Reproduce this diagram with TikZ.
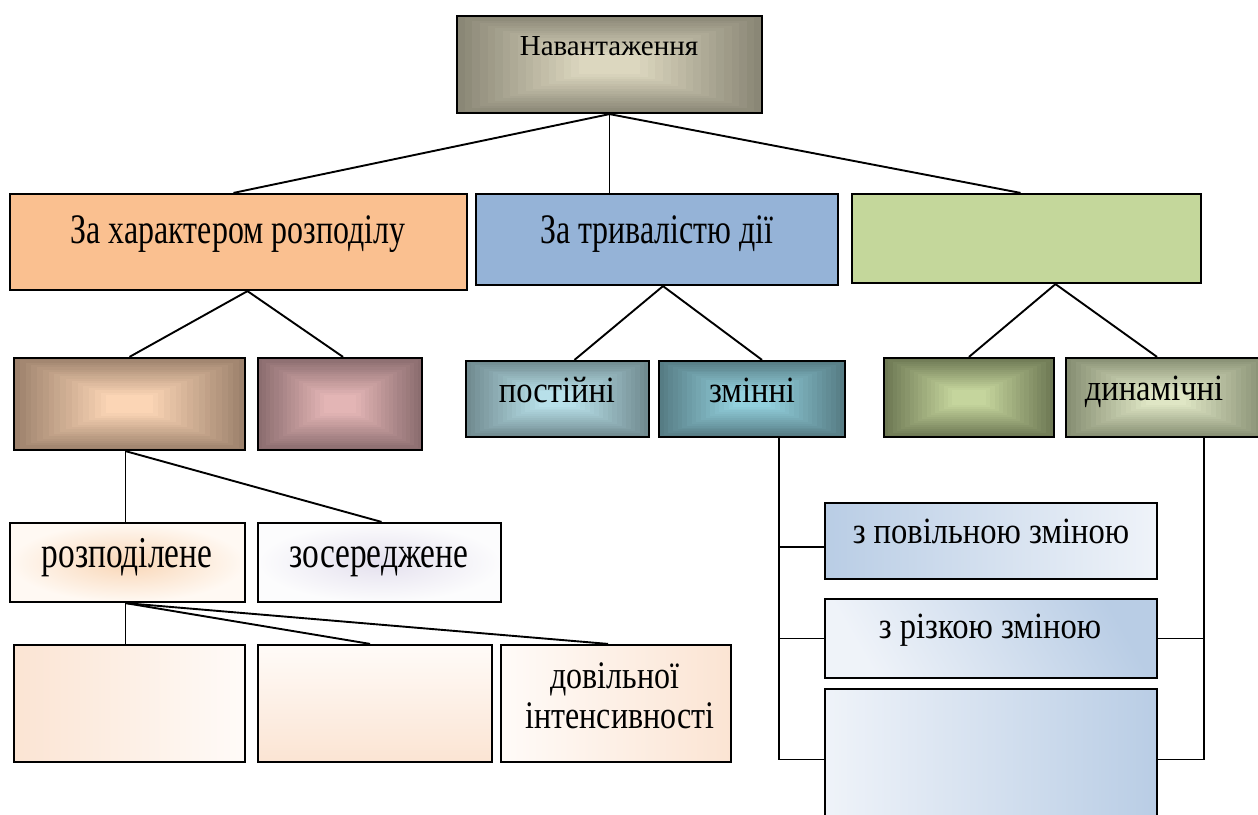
\documentclass[tikz,border=0pt]{standalone}
\usepackage{fontspec}
\setmainfont{Liberation Serif}
\newfontfamily\fcond[FakeStretch=0.76]{Liberation Serif}
\newfontfamily\fmid[FakeStretch=0.88]{Liberation Serif}
\newfontfamily\fdlow[FakeStretch=0.82]{Liberation Serif}
\usetikzlibrary{calc,fit}
\definecolor{topE}{HTML}{8A8776}\definecolor{topC}{HTML}{DCD7BF}
\definecolor{rowA}{HTML}{FAC090}\definecolor{rowB}{HTML}{95B3D7}\definecolor{rowC}{HTML}{C4D79B}
\definecolor{aoneE}{HTML}{9D826D}\definecolor{aoneC}{HTML}{FBD5B5}
\definecolor{atwoE}{HTML}{8B6D6F}\definecolor{atwoC}{HTML}{E3B5B5}
\definecolor{boneE}{HTML}{718B90}\definecolor{boneC}{HTML}{B8E0E9}
\definecolor{btwoE}{HTML}{567C84}\definecolor{btwoC}{HTML}{93D0DD}
\definecolor{coneE}{HTML}{6E7954}\definecolor{coneC}{HTML}{C5D59D}
\definecolor{ctwoE}{HTML}{878F73}\definecolor{ctwoC}{HTML}{DFE6C5}
\definecolor{pchC}{HTML}{F9D6B6}\definecolor{pchE}{HTML}{FFF9F3}
\definecolor{lavC}{HTML}{E4E0EE}\definecolor{lavE}{HTML}{FCFCFD}
\definecolor{pch}{HTML}{FBE4D3}\definecolor{pchW}{HTML}{FFFBF8}
\definecolor{eblue}{HTML}{B9CDE5}\definecolor{ewhite}{HTML}{EFF3F9}
\tikzset{
  box/.style={draw=black, line width=1.1pt, inner sep=0pt},
  conn/.style={draw=black, line width=0.95pt},
  rshade/.style 2 args={path picture={
    \foreach \i in {0,...,16}{
      \pgfmathtruncatemacro\shp{round(100*\i/16)}
      \pgfmathsetmacro\sht{1-0.8*\i/16}
      \fill[#1!\shp!#2] ($(path picture bounding box.center)!\sht!(path picture bounding box.south west)$) rectangle ($(path picture bounding box.center)!\sht!(path picture bounding box.north east)$);
    }}},
  ttop/.style={anchor=base, font=\fontsize{14.5}{17}\selectfont},
  tbig/.style={anchor=base, font=\fcond\fontsize{21}{24}\selectfont},
  tmid/.style={anchor=base, font=\fmid\fontsize{18.5}{22}\selectfont},
  tlow/.style={anchor=base, font=\fcond\fontsize{22}{24}\selectfont},
  tdlow/.style={anchor=base, font=\fdlow\fontsize{19.5}{22}\selectfont},
}
\begin{document}
\begin{tikzpicture}[x=0.5pt,y=-0.5pt]
\useasboundingbox (0,0) rectangle (1258,814);
\clip (0,0) rectangle (1258,814);
\fill[white] (0,0) rectangle (1258,814);
% level 0
\node[box, rshade={topC}{topE}, fit={(457,16)(762,113)}] (top) {};
\node[ttop] (ttop) at (609,55) {Навантаження};
% level 1
\node[box, fill=rowA, fit={(10,194)(467,290)}] (A) {};
\node[tbig] (tA) at (238,243) {За характером розподілу};
\node[box, fill=rowB, fit={(476,194)(838,285)}] (B) {};
\node[tbig] (tB) at (657,243) {За тривалістю дії};
\node[box, fill=rowC, fit={(852,194)(1201,283)}] (C) {};
% level 2
\node[box, rshade={aoneC}{aoneE}, fit={(14,358)(245,450)}] (A1) {};
\node[box, rshade={atwoC}{atwoE}, fit={(258,358)(422,450)}] (A2) {};
\node[box, rshade={boneC}{boneE}, fit={(466,361)(649,437)}] (B1) {};
\node[tmid] (tB1) at (557,402) {постійні};
\node[box, rshade={btwoC}{btwoE}, fit={(659,361)(845,437)}] (B2) {};
\node[tmid] (tB2) at (752,402) {змінні};
\node[box, rshade={coneC}{coneE}, fit={(884,358)(1054,437)}] (C1) {};
\node[box, rshade={ctwoC}{ctwoE}, fit={(1066,358)(1266,437)}] (C2) {};
\node[tmid] (tC2) at (1154,400) {динамічні};
% level 3
\node[box, inner color=pchC, outer color=pchE, fit={(10,523)(245,602)}] (A1a) {};
\node[tlow] (tA1a) at (127,567) {розподілене};
\node[box, inner color=lavC, outer color=lavE, fit={(258,523)(501,602)}] (A1b) {};
\node[tlow] (tA1b) at (379,567) {зосереджене};
% level 4
\node[box, left color=pch, right color=pchW, fit={(14,645)(245,762)}] (D1) {};
\node[box, top color=pchW, bottom color=pch, fit={(258,645)(492,762)}] (D2) {};
\node[box, left color=pchW, right color=pch, fit={(501,645)(731,762)}] (D3) {};
\node[tdlow, inner sep=1pt] (tD3a) at (615,688) {довільної};
\node[tdlow, inner sep=1pt] (tD3b) at (620,728) {інтенсивності};
% right column
\node[box, left color=eblue, right color=ewhite, fit={(825,503)(1157,579)}] (E1) {};
\node[tmid] (tE1) at (991,543) {з повільною зміною};
\node[box, top color=eblue, bottom color=ewhite, shading angle=-60, fit={(825,599)(1157,678)}] (E2) {};
\node[tmid] (tE2) at (990,638) {з різкою зміною};
\node[box, left color=ewhite, right color=eblue, fit={(825,689)(1157,830)}] (E3) {};
% connectors
\draw[conn] (top.south) -- ($(A.north)+(-5,0)$);
\draw[conn] (top.south) -- (top.south |- B.north);
\draw[conn] (top.south) -- ($(C.north)+(-6,0)$);
\draw[conn] ($(A.south)+(9,0)$) -- (A1.north);
\draw[conn] ($(A.south)+(9,0)$) -- ($(A2.north)+(3,0)$);
\draw[conn] ($(B.south)+(6,0)$) -- ($(B1.north)+(17,0)$);
\draw[conn] ($(B.south)+(6,0)$) -- ($(B2.north)+(10,0)$);
\draw[conn] ($(C.south)+(29,0)$) -- (C1.north);
\draw[conn] ($(C.south)+(29,0)$) -- ($(C2.north)+(-9,0)$);
\coordinate (aone) at ($(A1.south)+(-4,0)$);
\draw[conn] (aone) -- (aone |- A1a.north);
\draw[conn] (aone) -- ($(A1b.north)+(2,0)$);
\coordinate (aonea) at ($(A1a.south)+(-2,0)$);
\draw[conn] (aonea) -- (aonea |- D1.north);
\draw[conn] (aonea) -- ($(D2.north)+(-5,0)$);
\draw[conn] (aonea) -- ($(D3.north)+(-8,0)$);
\coordinate (L) at ($(B2.south)+(27,0)$);
\draw[conn] (L) |- (E3.west);
\draw[conn] (L) |- ($(E1.west)+(0,6)$);
\draw[conn] (L) |- (E2.west);
\coordinate (R) at ($(C2.south)+(38,0)$);
\draw[conn] (R) |- (E3.east);
\draw[conn] (R) |- (E2.east);
\end{tikzpicture}
\end{document}
